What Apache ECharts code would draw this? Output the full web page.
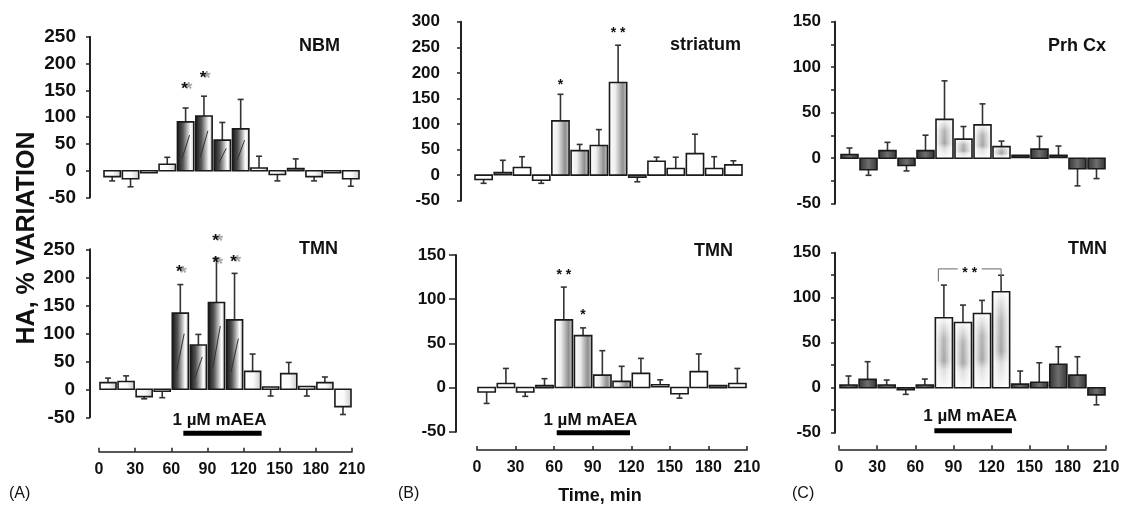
<!DOCTYPE html>
<html><head><meta charset="utf-8">
<script src="https://cdn.jsdelivr.net/npm/echarts@6/dist/echarts.min.js"></script>
<style>html,body{margin:0;padding:0;background:#fff}#c{width:1128px;height:507px}</style>
</head><body><div id="c"></div>
<script>
// ---------- DATA ----------
const binStarts = [0, 15, 30, 45, 60, 75, 90, 105, 120, 135, 150, 165, 180, 195]; // minutes
const binWidth = 15;
const timeMin = 0, timeMax = 210, timeStep = 30;

// (A) NBM
const nbmValues  = [-11, -15, -1, 12, 91, 102, 57, 78, 5, -7, 2, -11, -2, -15];
const nbmErrEnds = [-19, -30, -1, 25, 117, 139, 90, 133, 27, -19, 22, -19, -2, -29];
const nbmDrugBins = [4, 5, 6, 7];
const nbmStars = [[4, 160, '*'], [5, 180, '*']];
// (A) TMN
const tmnAValues  = [12, 14, -13, -2, 136, 79, 155, 124, 32, 4, 28, 5, 12, -31];
const tmnAErrEnds = [20, 24, -17, -15, 187, 98, 234, 207, 63, -12, 48, -12, 22, -45];
const tmnADrugBins = [4, 5, 6, 7];
const tmnAStars = [[4, 216, '*'], [6, 272, '*'], [6, 232, '*'], [7, 234, '*']];
const mAEAWindowA = [70, 135];

// (B) striatum
const striatumValues  = [-8.5, 3, 15, -10, 106, 48, 58, 181, -4, 27, 13, 42, 13, 20];
const striatumErrEnds = [-16, 29, 36, -16, 158, 60, 89, 254, -13, 35, 35, 80, 36, 28];
const striatumDrugBins = [4, 5, 6, 7];
const striatumStars = [[4, 183, '*'], [7, 285, '* *']];
// (B) TMN
const tmnBValues  = [-5, 4.5, -5, 1, 76.6, 58.7, 14, 7, 16, 2, -7, 18, 1, 4.5];
const tmnBErrEnds = [-18, 21.6, -10, 10, 113.7, 67.5, 41.7, 24, 33, 8.7, -12, 38, 1, 21.6];
const tmnBDrugBins = [4, 5, 6, 7];
const tmnBStars = [[4, 131.5, '* *'], [5, 86.4, '*']];
const mAEAWindowB = [62, 119];

// (C) Prh Cx
const prhValues  = [4, -12.7, 8.3, -8, 8.3, 42.7, 21, 36.6, 12.7, 2, 10, 2, -11.6, -11.6];
const prhErrEnds = [11.2, -18.8, 17.4, -14, 25.3, 85, 34.8, 59.7, 18.8, 2, 24, 13.4, -30.4, -22.4];
const prhDrugBins = [5, 6, 7, 8];
// (C) TMN
const tmnCValues  = [3, 9.3, 3, -1.5, 3, 77.7, 72.5, 82.5, 106.6, 4, 6, 26, 14, -8];
const tmnCErrEnds = [13, 28.9, 8.5, -7.4, 9.6, 114, 91.8, 97, 125, 18.5, 27.7, 45.5, 34.4, -19];
const tmnCDrugBins = [5, 6, 7, 8];
const tmnCBracket = [5, 8, 132, 118, '* *']; // from bin, to bin, top value, leg end value, label
const mAEAWindowC = [75, 136];

const yTicksA = [-50, 250, 50];
const yTicksBtop = [-50, 300, 50];
const yTicksBbot = [-50, 150, 50];
const yTicksC = [-50, 150, 25];

// ---------- STYLE ----------
const FONT = '"Liberation Sans", Arial, Helvetica, sans-serif';
const INK = '#111';
const G = echarts.graphic;
function lin(x0, y0, x1, y1, stops) {
  return new G.LinearGradient(x0, y0, x1, y1, stops.map(s => ({ offset: s[0], color: s[1] })));
}

function barChildren(look, drug, x, y, w, h) {
  const out = [];
  const stroke = { stroke: '#1a1a1a', lineWidth: 1.6 };
  if (look === 'A') {
    if (drug) {
      out.push({ type: 'rect', shape: { x, y, width: w, height: h },
        style: Object.assign({ fill: lin(0, 0, 1, 0, [[0, '#111'], [0.35, '#555'], [0.78, '#fff'], [1, '#bdbdbd']]) }, stroke) });
      out.push({ type: 'line', shape: { x1: x + w * 0.28, y1: y + h * 0.75, x2: x + w * 0.74, y2: y + h * 0.27 },
        style: { stroke: '#333', lineWidth: 1 } });
    } else {
      out.push({ type: 'rect', shape: { x, y, width: w, height: h },
        style: Object.assign({ fill: lin(0, 0, 1, 0, [[0, '#fff'], [0.55, '#fafafa'], [1, '#c9c9c9']]) }, stroke) });
    }
  } else if (look === 'B') {
    out.push({ type: 'rect', shape: { x, y, width: w, height: h },
      style: Object.assign({ fill: drug ? lin(0, 0, 1, 0, [[0, '#fff'], [0.35, '#eee'], [0.75, '#8e8e8e'], [1, '#d6d6d6']]) : '#fff' }, stroke) });
  } else {
    if (drug) {
      out.push({ type: 'rect', shape: { x, y, width: w, height: h },
        style: { fill: lin(0, 0, 1, 0, [[0, '#fdfdfd'], [0.5, '#9a9a9a'], [1, '#fdfdfd']]) } });
      out.push({ type: 'rect', shape: { x, y, width: w, height: h },
        style: { fill: lin(0, 0, 0, 1, [[0, 'rgba(255,255,255,0.95)'], [0.3, 'rgba(255,255,255,0.25)'],
          [0.62, 'rgba(255,255,255,0.1)'], [0.74, 'rgba(255,255,255,0.65)'], [1, 'rgba(255,255,255,0.95)']]) } });
      out.push({ type: 'rect', shape: { x, y, width: w, height: h }, style: Object.assign({ fill: 'none' }, stroke) });
    } else {
      out.push({ type: 'rect', shape: { x, y, width: w, height: h },
        style: Object.assign({ fill: lin(0, 0, 1, 0, [[0, '#333'], [0.5, '#6e6e6e'], [1, '#333']]) }, stroke) });
    }
  }
  return out;
}

function barSeries(idx, values, errEnds, drugBins, look) {
  return {
    type: 'custom', xAxisIndex: idx, yAxisIndex: idx, silent: true,
    data: binStarts.map((t, i) => [t, values[i], errEnds[i], drugBins.indexOf(i) >= 0 ? 1 : 0]),
    renderItem(params, api) {
      const t = api.value(0), v = api.value(1), e = api.value(2), drug = api.value(3);
      const a = api.coord([t, 0]), b = api.coord([t + binWidth, v]);
      const gap = 1;
      const x = a[0] + gap, w = b[0] - a[0] - 2 * gap;
      let y = Math.min(a[1], b[1]), h = Math.abs(b[1] - a[1]);
      if (h < 2) { y = Math.min(a[1], b[1]) - (v >= 0 ? 1 : 0); h = 2; }
      const ch = [];
      if (e !== v) {
        const pv = api.coord([t + binWidth / 2, v]), pe = api.coord([t + binWidth / 2, e]);
        ch.push({ type: 'line', shape: { x1: pv[0], y1: pv[1], x2: pe[0], y2: pe[1] }, style: { stroke: '#333', lineWidth: 1.6 } });
        ch.push({ type: 'line', shape: { x1: pe[0] - 3, y1: pe[1], x2: pe[0] + 3, y2: pe[1] }, style: { stroke: '#333', lineWidth: 1.6 } });
      }
      return { type: 'group', children: ch.concat(barChildren(look, drug, x, y, w, h)) };
    }
  };
}

function starSeries(idx, stars, look) {
  return {
    type: 'custom', xAxisIndex: idx, yAxisIndex: idx, silent: true,
    data: stars.map(s => [binStarts[s[0]] + binWidth / 2, s[1]]),
    renderItem(params, api) {
      const p = api.coord([api.value(0), api.value(1)]);
      const txt = stars[params.dataIndex][2];
      const ch = [];
      if (look === 'A') {
        ch.push({ type: 'text', x: p[0] + 3, y: p[1] + 5, style: { text: txt, align: 'center', verticalAlign: 'middle', font: 'bold 19px ' + FONT, fill: '#a8a8a8' } });
        ch.push({ type: 'text', x: p[0] - 1, y: p[1] + 4, style: { text: txt, align: 'center', verticalAlign: 'middle', font: 'bold 17px ' + FONT, fill: '#111' } });
      } else {
        ch.push({ type: 'text', x: p[0], y: p[1] + 4, style: { text: txt, align: 'center', verticalAlign: 'middle', font: 'bold 14px ' + FONT, fill: '#111' } });
      }
      return { type: 'group', children: ch };
    }
  };
}

function drugSeries(idx, win, textDy, barDy) {
  return {
    type: 'custom', xAxisIndex: idx, yAxisIndex: idx, silent: true,
    data: [[win[0], win[1]]],
    renderItem(params, api) {
      const cs = params.coordSys; const base = cs.y + cs.height;
      const x0 = api.coord([api.value(0), 0])[0], x1 = api.coord([api.value(1), 0])[0];
      return { type: 'group', children: [
        { type: 'rect', shape: { x: x0, y: base + barDy - 2.5, width: x1 - x0, height: 5 }, style: { fill: '#000' } },
        { type: 'text', x: (x0 + x1) / 2 - 3, y: base + textDy, style: { text: '1 µM mAEA', align: 'center', verticalAlign: 'middle', font: 'bold 17px ' + FONT, fill: INK } }
      ] };
    }
  };
}

function bracketSeries(idx, br) {
  return {
    type: 'custom', xAxisIndex: idx, yAxisIndex: idx, silent: true,
    data: [[binStarts[br[0]], binStarts[br[1]] + binWidth / 2, br[2], br[3]]],
    renderItem(params, api) {
      const l = api.coord([api.value(0), api.value(2)]);
      const r = api.coord([api.value(1), api.value(2)]);
      const lb = api.coord([api.value(0), api.value(3)]);
      const xl = l[0] + 4, xr = r[0];
      return { type: 'group', children: [
        { type: 'polyline', shape: { points: [[xl, lb[1]], [xl, l[1]], [xr, l[1]], [xr, lb[1]]] }, style: { stroke: '#666', lineWidth: 1, fill: 'none' } },
        { type: 'rect', shape: { x: (xl + xr) / 2 - 12, y: l[1] - 4, width: 24, height: 8 }, style: { fill: '#fff' } },
        { type: 'text', x: (xl + xr) / 2, y: l[1] + 4, style: { text: br[4], align: 'center', verticalAlign: 'middle', font: 'bold 14px ' + FONT, fill: '#111' } }
      ] };
    }
  };
}

// ---------- LAYOUT ----------
const grids = [
  { left: 103, top: 36.7, width: 257, height: 160.8 },   // A top
  { left: 99, top: 249.3, width: 253, height: 168 },     // A bottom
  { left: 474, top: 21.7, width: 269, height: 179 },     // B top
  { left: 477, top: 255, width: 270, height: 176.7 },    // B bottom
  { left: 840, top: 21.7, width: 266, height: 182 },     // C top
  { left: 839, top: 252.7, width: 267, height: 180 }     // C bottom
];
// [ticks, axis offset, label margin, tick length, label step, label font size]
const yCfg = [
  [yTicksA, 13, 14, 4, 50, 19], [yTicksA, 9, 15, 4, 50, 19],
  [yTicksBtop, 13, 21, 4, 50, 17], [yTicksBbot, 21, 10, 7, 50, 17],
  [yTicksC, 5, 14, 4, 50, 17], [yTicksC, 4, 14, 4, 50, 17]
];
const xOffsets = [null, 34.4, null, 18.3, null, 16.6];

const labelFont = { color: INK, fontFamily: FONT, fontWeight: 'bold', fontSize: 17 };

const option = {
  animation: false,
  backgroundColor: '#fff',
  grid: grids.map(g => Object.assign({ containLabel: false }, g)),
  xAxis: grids.map((g, i) => ({
    type: 'value', gridIndex: i, min: timeMin, max: timeMax, interval: timeStep,
    show: xOffsets[i] !== null, offset: xOffsets[i] || 0, position: 'bottom',
    axisLine: { show: true, onZero: false, lineStyle: { color: '#222', width: 1.6 } },
    axisTick: { show: true, inside: true, length: 4, lineStyle: { color: '#222', width: 1.5 } },
    splitLine: { show: false },
    axisLabel: Object.assign({ margin: 10 }, labelFont, { fontSize: 16 })
  })),
  yAxis: yCfg.map((c, i) => ({
    type: 'value', gridIndex: i, min: c[0][0], max: c[0][1], interval: c[0][2],
    offset: c[1], position: 'left',
    axisLine: { show: true, onZero: false, lineStyle: { color: '#222', width: 2 } },
    axisTick: { show: true, length: c[3], lineStyle: { color: '#222', width: 1.5 } },
    splitLine: { show: false },
    axisLabel: Object.assign({ margin: c[2], formatter: v => (v % c[4] === 0 ? String(v) : '') }, labelFont, { fontSize: c[5] })
  })),
  series: [
    barSeries(0, nbmValues, nbmErrEnds, nbmDrugBins, 'A'),
    starSeries(0, nbmStars, 'A'),
    barSeries(1, tmnAValues, tmnAErrEnds, tmnADrugBins, 'A'),
    starSeries(1, tmnAStars, 'A'),
    drugSeries(1, mAEAWindowA, 3, 16),
    barSeries(2, striatumValues, striatumErrEnds, striatumDrugBins, 'B'),
    starSeries(2, striatumStars, 'B'),
    barSeries(3, tmnBValues, tmnBErrEnds, tmnBDrugBins, 'B'),
    starSeries(3, tmnBStars, 'B'),
    drugSeries(3, mAEAWindowB, -11.7, 1),
    barSeries(4, prhValues, prhErrEnds, prhDrugBins, 'C'),
    barSeries(5, tmnCValues, tmnCErrEnds, tmnCDrugBins, 'C'),
    bracketSeries(5, tmnCBracket),
    drugSeries(5, mAEAWindowC, -16, -2)
  ],
  graphic: [
    { type: 'text', x: 27, y: 238, rotation: Math.PI / 2, style: { text: 'HA, % VARIATION', align: 'center', verticalAlign: 'middle', font: 'bold 25px ' + FONT, fill: INK } },
    { type: 'text', x: 340, y: 46, style: { text: 'NBM', align: 'right', verticalAlign: 'middle', font: 'bold 18px ' + FONT, fill: INK } },
    { type: 'text', x: 338, y: 249, style: { text: 'TMN', align: 'right', verticalAlign: 'middle', font: 'bold 18px ' + FONT, fill: INK } },
    { type: 'text', x: 741, y: 45, style: { text: 'striatum', align: 'right', verticalAlign: 'middle', font: 'bold 18px ' + FONT, fill: INK } },
    { type: 'text', x: 733, y: 251, style: { text: 'TMN', align: 'right', verticalAlign: 'middle', font: 'bold 18px ' + FONT, fill: INK } },
    { type: 'text', x: 1106, y: 46, style: { text: 'Prh Cx', align: 'right', verticalAlign: 'middle', font: 'bold 18px ' + FONT, fill: INK } },
    { type: 'text', x: 1107, y: 249, style: { text: 'TMN', align: 'right', verticalAlign: 'middle', font: 'bold 18px ' + FONT, fill: INK } },
    { type: 'text', x: 9, y: 494, style: { text: '(A)', align: 'left', verticalAlign: 'middle', font: '16px ' + FONT, fill: INK } },
    { type: 'text', x: 398, y: 494, style: { text: '(B)', align: 'left', verticalAlign: 'middle', font: '16px ' + FONT, fill: INK } },
    { type: 'text', x: 792, y: 494, style: { text: '(C)', align: 'left', verticalAlign: 'middle', font: '16px ' + FONT, fill: INK } },
    { type: 'text', x: 600, y: 496, style: { text: 'Time, min', align: 'center', verticalAlign: 'middle', font: 'bold 18px ' + FONT, fill: INK } }
  ]
};

const chart = echarts.init(document.getElementById('c'), null, { renderer: 'canvas' });
chart.setOption(option);
</script>
</body></html>
